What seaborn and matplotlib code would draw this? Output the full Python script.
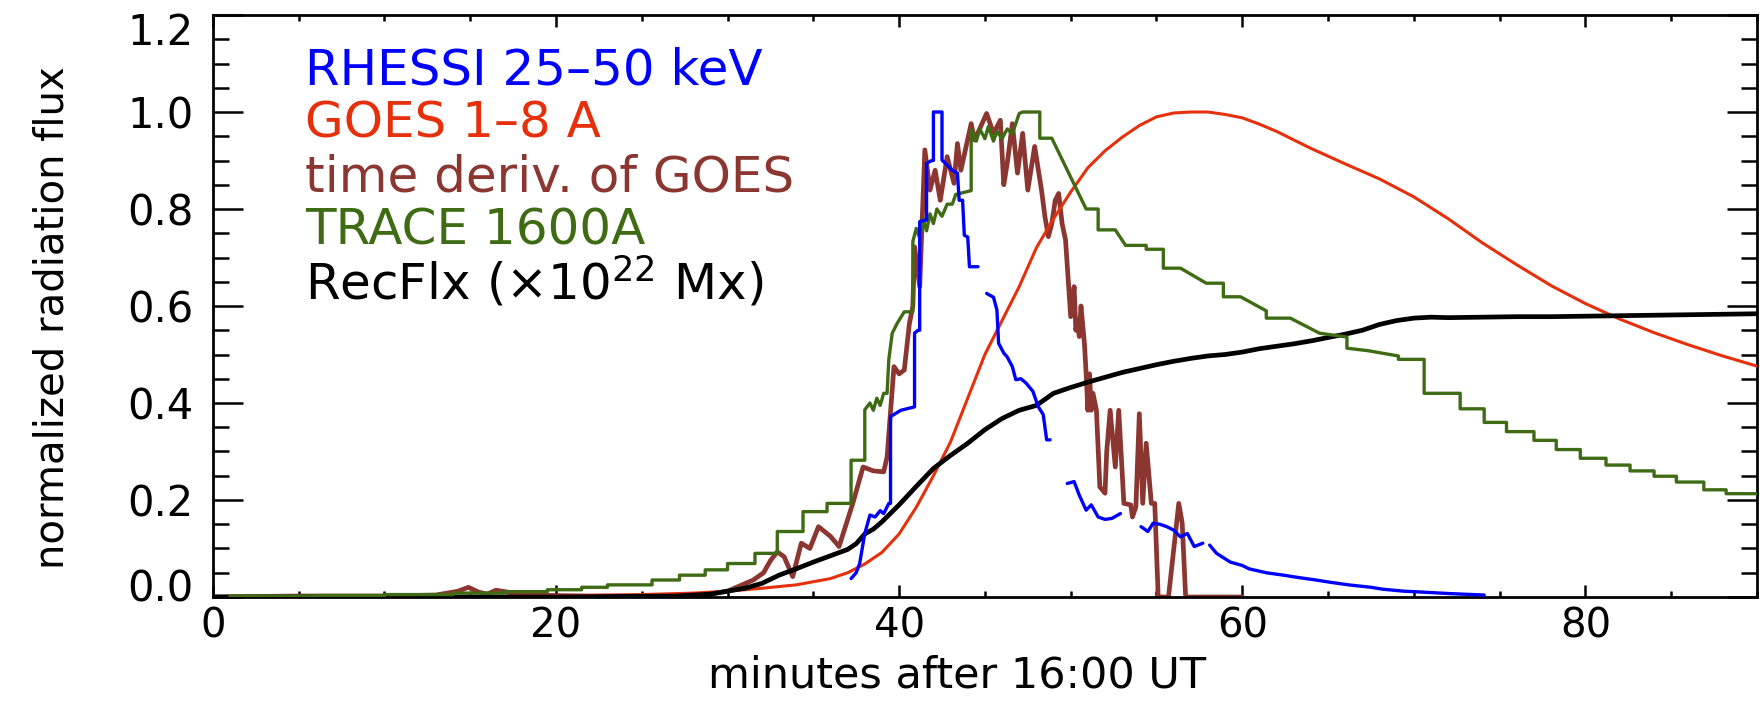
import numpy as np
import pandas as pd
import matplotlib
matplotlib.use("Agg")
import matplotlib.pyplot as plt
from matplotlib.ticker import MultipleLocator, FixedLocator, FixedFormatter
import matplotlib.transforms as mtransforms
import seaborn as sns

# ---------------- data ----------------
x_ticks = [0, 20, 40, 60, 80]
y_ticks = [0.0, 0.2, 0.4, 0.6, 0.8, 1.0, 1.2]
y_tick_labels = ["0.0", "0.2", "0.4", "0.6", "0.8", "1.0", "1.2"]

labels = ["RHESSI 25\u201350 keV", "GOES 1\u20138 A", "time deriv. of GOES",
          "TRACE 1600A", "RecFlx (\u00d710$^{22}$ Mx)"]

# RHESSI 25-50 keV (segments with gaps)
rhessi_seg = [1]*33 + [2]*15 + [3]*9 + [4]*10 + [5]*17
rhessi_t = [37.2, 37.5, 37.7, 38.0, 38.3, 38.6, 38.9, 39.1, 39.4, 39.5, 39.5, 40.1, 40.9, 40.9,
            41.1, 41.2, 41.2, 41.5, 41.6, 41.6, 41.9, 42.0, 42.0, 42.5, 42.5, 43.1, 43.4, 43.5,
            43.7, 43.8, 44.0, 44.1, 44.6,
            45.1, 45.5, 45.7, 45.8, 46.1, 46.3, 46.6, 46.8, 47.1, 47.4, 47.8, 48.1, 48.4, 48.6, 48.8,
            49.8, 50.2, 50.5, 50.9, 51.2, 51.6, 52.0, 52.4, 52.9,
            54.1, 54.5, 54.8, 55.2, 55.6, 56.0, 56.4, 56.8, 57.2, 57.7,
            58.1, 58.5, 59.3, 60.0, 60.4, 61.4, 62.4, 63.3, 64.3, 65.0, 66.2, 67.5, 68.2, 69.4,
            70.0, 72.1, 74.1]
rhessi_v = [0.038, 0.05, 0.069, 0.131, 0.169, 0.165, 0.178, 0.172, 0.193, 0.193, 0.372, 0.385,
            0.392, 0.544, 0.55, 0.55, 0.774, 0.777, 0.777, 0.894, 0.9, 0.9, 1.0, 1.0, 0.901, 0.88,
            0.874, 0.818, 0.818, 0.746, 0.742, 0.681, 0.681,
            0.626, 0.618, 0.592, 0.523, 0.503, 0.495, 0.475, 0.448, 0.45, 0.441, 0.424, 0.393,
            0.376, 0.324, 0.324,
            0.234, 0.238, 0.21, 0.179, 0.19, 0.165, 0.16, 0.162, 0.172,
            0.145, 0.135, 0.152, 0.15, 0.145, 0.138, 0.124, 0.131, 0.104, 0.111,
            0.107, 0.09, 0.072, 0.065, 0.058, 0.05, 0.045, 0.04, 0.035, 0.031, 0.025, 0.02,
            0.016, 0.012, 0.011, 0.007, 0.004]

# GOES 1-8 A
goes_t = [0, 10, 20, 25, 28, 30, 32, 34, 36, 37, 38, 39, 40, 41, 42, 43, 44, 45, 46, 47, 48,
          49, 50, 51, 52, 53, 54, 55, 56, 57, 58, 59, 60, 61, 62, 64, 66, 68, 70, 72, 74, 76,
          78, 80, 82, 84, 86, 88, 90]
goes_v = [0.0, 0.0, 0.002, 0.005, 0.008, 0.012, 0.018, 0.025, 0.038, 0.05, 0.068, 0.092, 0.13,
          0.185, 0.25, 0.32, 0.41, 0.5, 0.57, 0.64, 0.72, 0.78, 0.835, 0.885, 0.92, 0.948, 0.972,
          0.99, 0.998, 1.0, 1.0, 0.995, 0.988, 0.975, 0.96, 0.925, 0.893, 0.862, 0.825, 0.78,
          0.73, 0.685, 0.642, 0.605, 0.573, 0.545, 0.52, 0.497, 0.476]

# time derivative of GOES
deriv_t = [0, 5, 10, 13, 14.3, 14.9, 15.5, 16.0, 16.5, 17.2, 18, 20, 22, 25, 27, 28.6, 30,
           31.5, 32.1, 32.5, 32.9, 33.3, 33.8, 34.3, 34.8, 35.3, 36.0, 36.5, 37.3, 37.9, 38.5,
           39.1, 39.3, 39.7, 40.0, 40.3, 40.6, 40.8, 40.9, 41.2, 41.5, 41.8, 42.1, 42.4, 42.8,
           43.2, 43.4, 43.6, 44.2, 44.4, 45.1, 45.5, 45.9, 46.1, 46.3, 46.6, 46.9, 47.2, 47.5,
           47.9, 48.3, 48.5, 48.7, 48.9, 49.1, 49.3, 49.5, 49.7, 50.0, 50.2, 50.3, 50.4, 50.5,
           50.6, 50.8, 50.9, 51.0, 51.1, 51.2, 51.3, 51.5, 51.7, 52.0, 52.1, 52.3, 52.6, 52.8,
           53.1, 53.5, 53.6, 53.8, 54.0, 54.2, 54.4, 54.7, 54.9, 55.1, 55.7, 56.3, 56.5, 56.7, 60]
deriv_v = [0.0, 0.002, 0.002, 0.004, 0.012, 0.02, 0.01, 0.006, 0.014, 0.01, 0.004, 0.003,
           0.002, 0.002, 0.002, 0.004, 0.012, 0.035, 0.05, 0.075, 0.093, 0.083, 0.042, 0.111,
           0.10, 0.145, 0.125, 0.104, 0.193, 0.268, 0.26, 0.258, 0.289, 0.475, 0.46, 0.468,
           0.564, 0.599, 0.722, 0.64, 0.922, 0.839, 0.88, 0.818, 0.908, 0.853, 0.935, 0.88,
           0.976, 0.942, 0.997, 0.956, 0.983, 0.85, 0.894, 0.976, 0.874, 0.956, 0.839, 0.929,
           0.839, 0.784, 0.743, 0.77, 0.818, 0.832, 0.77, 0.736, 0.578, 0.64, 0.55, 0.571, 0.537,
           0.6, 0.523, 0.461, 0.385, 0.46, 0.385, 0.42, 0.385, 0.227, 0.214, 0.30, 0.385, 0.268,
           0.385, 0.193, 0.19, 0.165, 0.186, 0.378, 0.193, 0.317, 0.193, 0.193, 0.0, 0.0, 0.193,
           0.152, 0.0, 0.0]

# TRACE 1600A (step-like)
trace_t = [1.0, 6, 6, 10, 10, 14, 14, 17, 17, 19.5, 19.5, 21.5, 21.5, 23.0, 23.0, 25.6, 25.6,
           27.2, 27.2, 28.7, 28.7, 30.0, 30.0, 31.6, 31.6, 32.9, 32.9, 34.4, 34.4, 35.8, 35.8,
           37.2, 37.2, 38.0, 38.0, 38.3, 38.5, 38.7, 38.9, 39.1, 39.3, 39.4, 39.6, 39.9, 40.3,
           40.8, 40.8, 41.0, 41.2, 41.4, 41.6, 41.8, 42.0, 42.2, 42.5, 42.8, 43.1, 43.3, 44.2,
           44.2, 44.5, 44.7, 45.0, 45.2, 45.5, 45.7, 46.0, 46.3, 46.6, 47.0, 47.2, 48.2, 48.2,
           48.9, 50.9, 51.6, 51.6, 52.6, 53.2, 54.4, 54.4, 55.4, 55.4, 56.4, 57.9, 58.9, 58.9,
           59.9, 61.4, 61.4, 62.8, 64.5, 66.1, 66.1, 67.3, 69.1, 69.1, 70.6, 70.6, 72.7, 72.7,
           74.1, 74.1, 75.4, 75.4, 77.0, 77.0, 78.3, 78.3, 79.7, 79.7, 81.2, 81.2, 82.6, 82.6,
           84.0, 84.0, 85.3, 85.3, 86.9, 86.9, 88.2, 88.2, 90.0]
trace_v = [0.002, 0.002, 0.003, 0.003, 0.005, 0.005, 0.008, 0.008, 0.011, 0.011, 0.015, 0.015,
           0.02, 0.02, 0.025, 0.025, 0.035, 0.035, 0.045, 0.045, 0.056, 0.056, 0.069, 0.069,
           0.09, 0.09, 0.135, 0.135, 0.176, 0.176, 0.193, 0.193, 0.282, 0.282, 0.386, 0.40,
           0.385, 0.41, 0.395, 0.42, 0.42, 0.49, 0.544, 0.565, 0.588, 0.588, 0.733, 0.76, 0.74,
           0.78, 0.755, 0.79, 0.77, 0.80, 0.785, 0.81, 0.81, 0.83, 0.838, 0.963, 0.94, 0.965,
           0.945, 0.97, 0.94, 0.96, 0.945, 0.965, 0.955, 0.997, 1.0, 1.0, 0.946, 0.946, 0.80,
           0.80, 0.757, 0.757, 0.725, 0.725, 0.717, 0.717, 0.678, 0.678, 0.647, 0.647, 0.619,
           0.619, 0.59, 0.575, 0.575, 0.544, 0.536, 0.513, 0.508, 0.497, 0.49, 0.49, 0.42,
           0.42, 0.388, 0.388, 0.36, 0.36, 0.341, 0.341, 0.323, 0.323, 0.304, 0.304, 0.286,
           0.286, 0.272, 0.272, 0.26, 0.26, 0.249, 0.249, 0.237, 0.237, 0.221, 0.221, 0.213,
           0.213]

# Reconnection flux
recflx_t = [0, 20, 27, 29, 30, 31, 32, 33, 34, 35, 36, 37, 37.5, 38, 38.5, 39, 40, 41, 42, 43,
            44, 45, 46, 47, 48, 49, 50, 51, 52, 53, 54, 55, 56, 57, 58, 59, 60, 61, 62, 63, 64,
            65, 66, 67, 68, 69, 70, 71, 72, 74, 76, 78, 80, 82, 84, 86, 88, 90]
recflx_v = [0.0, 0.0, 0.002, 0.006, 0.012, 0.018, 0.028, 0.045, 0.058, 0.072, 0.085, 0.098,
            0.11, 0.13, 0.14, 0.155, 0.19, 0.228, 0.265, 0.292, 0.317, 0.345, 0.368, 0.385,
            0.395, 0.42, 0.432, 0.443, 0.453, 0.463, 0.471, 0.479, 0.486, 0.492, 0.497, 0.5,
            0.505, 0.512, 0.517, 0.522, 0.528, 0.535, 0.542, 0.55, 0.562, 0.57, 0.575, 0.577,
            0.576, 0.577, 0.578, 0.578, 0.579, 0.58, 0.581, 0.582, 0.583, 0.584]

# ---------------- style ----------------
c_blue = "#0000FF"
c_red = "#E6300C"
c_brown = "#8B3630"
c_green = "#3E6B14"
c_black = "#000000"

sns.set_theme(style="ticks")
plt.rcParams["font.family"] = ["DejaVu Sans"]
plt.rcParams["mathtext.fontset"] = "dejavusans"

fig = plt.figure(figsize=(17.6, 7.05), dpi=100)
ax = fig.add_axes([0.1209, 0.1532, 0.8774, 0.8255])

df_rhessi = pd.DataFrame({"t": rhessi_t, "v": rhessi_v, "seg": rhessi_seg})

sns.lineplot(x=deriv_t, y=deriv_v, estimator=None, sort=False, color=c_brown,
             linewidth=3.4, ax=ax, zorder=2)
sns.lineplot(x=goes_t, y=goes_v, estimator=None, sort=False, color=c_red,
             linewidth=2.2, ax=ax, zorder=3)
sns.lineplot(x=recflx_t, y=recflx_v, estimator=None, sort=False, color=c_black,
             linewidth=3.4, ax=ax, zorder=4)
sns.lineplot(x=trace_t, y=trace_v, estimator=None, sort=False, color=c_green,
             linewidth=2.4, ax=ax, zorder=5)
sns.lineplot(data=df_rhessi, x="t", y="v", units="seg", estimator=None, sort=False,
             color=c_blue, linewidth=2.4, ax=ax, zorder=6)

ax.set_xlim(0, 90)
ax.set_ylim(0, 1.2)

ax.xaxis.set_major_locator(FixedLocator(x_ticks))
ax.xaxis.set_minor_locator(MultipleLocator(5))
ax.yaxis.set_major_locator(FixedLocator(y_ticks))
ax.yaxis.set_major_formatter(FixedFormatter(y_tick_labels))
ax.yaxis.set_minor_locator(MultipleLocator(0.05))

ax.tick_params(which="both", direction="in", top=True, right=True, color="black",
               width=1.8, labelcolor="black")
ax.tick_params(axis="x", which="major", length=8.5, labelsize=29, pad=7)
ax.tick_params(axis="x", which="minor", length=4.2)
ax.tick_params(axis="y", which="major", length=21.5, labelsize=30, pad=14)
ax.tick_params(axis="y", which="minor", length=11.3)

for sp in ax.spines.values():
    sp.set_color("black")
    sp.set_linewidth(2.0)

# nudge end labels inward as in the reference
fig.canvas.draw()
ylabs = ax.get_yticklabels()
ylabs[0].set_transform(ylabs[0].get_transform() +
                       mtransforms.ScaledTranslation(0, 12 / 100, fig.dpi_scale_trans))
ylabs[-1].set_transform(ylabs[-1].get_transform() +
                        mtransforms.ScaledTranslation(0, -13 / 100, fig.dpi_scale_trans))

ax.set_xlabel("minutes after 16:00 UT", fontsize=31, color="black")
ax.set_ylabel("normalized radiation flux", fontsize=29, color="black")
ax.xaxis.set_label_coords(0.482, -0.098)
ax.yaxis.set_label_coords(-0.091, 0.481)

label_colors = [c_blue, c_red, c_brown, c_green, c_black]
label_y = [0.880, 0.789, 0.696, 0.605, 0.512]
for txt, col, yy in zip(labels, label_colors, label_y):
    ax.text(0.06, yy, txt, color=col, fontsize=36, transform=ax.transAxes,
            ha="left", va="baseline", zorder=10)

fig.savefig("out.png", dpi=100)
